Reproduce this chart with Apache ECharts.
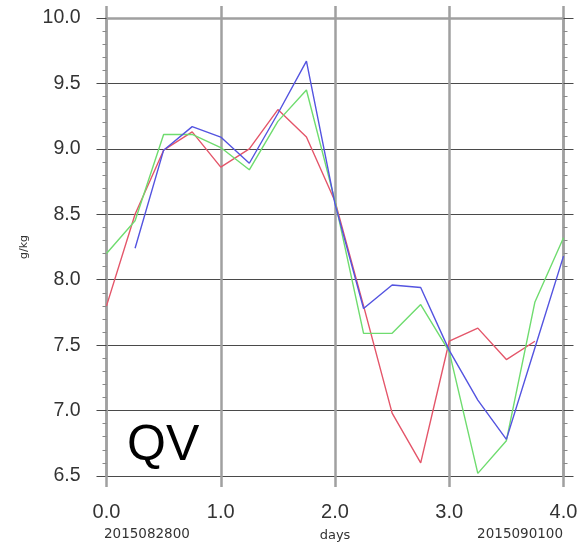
<!DOCTYPE html>
<html>
<head>
<meta charset="utf-8">
<script src="https://cdn.jsdelivr.net/npm/echarts@6/dist/echarts.min.js"></script>
<style>
  html, body { margin: 0; padding: 0; background: #fff; }
  #chart { width: 578px; height: 543px; }
</style>
</head>
<body>
<div id="chart"></div>
<script>
// 6-hourly time steps, in days from 2015-08-28 00 UTC
var days = [0, 0.25, 0.5, 0.75, 1, 1.25, 1.5, 1.75, 2, 2.25, 2.5, 2.75, 3, 3.25, 3.5, 3.75, 4];
// QV (g/kg) for three runs; null where a run has no value
var qvRed   = [7.80, 8.50, 8.99, 9.13, 8.86, 9.00, 9.30, 9.09, 8.60, 7.80, 6.98, 6.60, 7.53, 7.63, 7.39, 7.53, null];
var qvGreen = [8.20, 8.45, 9.11, 9.11, 9.01, 8.84, 9.21, 9.45, 8.60, 7.59, 7.59, 7.81, 7.45, 6.52, 6.77, 7.83, 8.32];
var qvBlue  = [null, 8.24, 8.99, 9.17, 9.09, 8.89, 9.27, 9.67, 8.58, 7.78, 7.96, 7.94, 7.46, 7.08, 6.78, 7.48, 8.18];
var startLabel = '2015082800';
var endLabel = '2015090100';

var FONT = '"Liberation Sans", Arial, Helvetica, sans-serif';
var SMALL = '"DejaVu Sans", "Liberation Sans", sans-serif';
var DARK = '#4a4a4a';
var GREY = '#a0a0a0';

function pairs(vals) {
  var out = [];
  for (var i = 0; i < days.length; i++) {
    if (vals[i] !== null) out.push([days[i], vals[i]]);
  }
  return out;
}

function lineSeries(vals, color) {
  return {
    type: 'line',
    data: pairs(vals),
    showSymbol: false,
    symbol: 'none',
    lineStyle: { color: color, width: 1.4 },
    animation: false,
    z: 5
  };
}

var chart = echarts.init(document.getElementById('chart'), null, { renderer: 'canvas' });

var option = {
  backgroundColor: '#fff',
  animation: false,
  grid: {
    left: 106.5, right: 14.5, top: 18, bottom: 67,
    containLabel: false, outerBoundsMode: 'none'
  },
  xAxis: [
    {
      type: 'value', position: 'bottom', min: 0, max: 4, interval: 1,
      name: 'days', nameLocation: 'middle', nameGap: 53,
      nameTextStyle: { fontFamily: SMALL, fontSize: 13, color: '#333' },
      axisLine: { show: true, onZero: false, lineStyle: { color: DARK, width: 1 } },
      axisTick: { show: true, inside: false, length: 11, lineStyle: { color: GREY, width: 2.5 } },
      axisLabel: {
        margin: 26, fontFamily: FONT, fontSize: 20, color: '#333',
        formatter: function (v) { return v.toFixed(1); }
      },
      splitLine: { show: true, lineStyle: { color: GREY, width: 2.5 } }
    },
    {
      type: 'value', position: 'top', min: 0, max: 4, interval: 1,
      axisLine: { show: true, onZero: false, lineStyle: { color: GREY, width: 2.5 } },
      axisTick: { show: true, inside: false, length: 12, lineStyle: { color: GREY, width: 2.5 } },
      axisLabel: { show: false },
      splitLine: { show: false }
    }
  ],
  yAxis: [
    {
      type: 'value', position: 'left', min: 6.5, max: 10, interval: 0.5,
      name: 'g/kg', nameLocation: 'middle', nameGap: 77, nameRotate: 90,
      nameTextStyle: { fontFamily: SMALL, fontSize: 11, color: '#333' },
      axisLine: { show: true, onZero: false, lineStyle: { color: GREY, width: 2.5 } },
      axisTick: { show: true, inside: false, length: 10, lineStyle: { color: DARK, width: 1 } },
      minorTick: { show: true, splitNumber: 5, length: 4, lineStyle: { color: '#888', width: 1 } },
      axisLabel: {
        margin: 26, fontFamily: FONT, fontSize: 19.5, color: '#333',
        formatter: function (v) { return v.toFixed(1); }
      },
      splitLine: { show: true, lineStyle: { color: DARK, width: 1.2 } }
    },
    {
      type: 'value', position: 'right', min: 6.5, max: 10, interval: 0.5,
      axisLine: { show: true, onZero: false, lineStyle: { color: GREY, width: 2.5 } },
      axisTick: { show: true, inside: false, length: 10, lineStyle: { color: DARK, width: 1 } },
      minorTick: { show: true, splitNumber: 5, length: 4, lineStyle: { color: '#888', width: 1 } },
      axisLabel: { show: false },
      splitLine: { show: false }
    }
  ],
  series: [
    lineSeries(qvRed, '#e4566a'),
    lineSeries(qvGreen, '#6fdc6f'),
    lineSeries(qvBlue, '#5454e0')
  ],
  graphic: [
    {
      type: 'text', left: 104, top: 527,
      style: { text: startLabel, font: '13.5px ' + SMALL, fill: '#333' }
    },
    {
      type: 'text', right: 15, top: 527,
      style: { text: endLabel, font: '13.5px ' + SMALL, fill: '#333' }
    },
    {
      type: 'text', left: 127, top: 421,
      style: { text: 'QV', font: '50px ' + FONT, fill: '#000' },
      z: 10
    }
  ]
};

chart.setOption(option);
</script>
</body>
</html>
